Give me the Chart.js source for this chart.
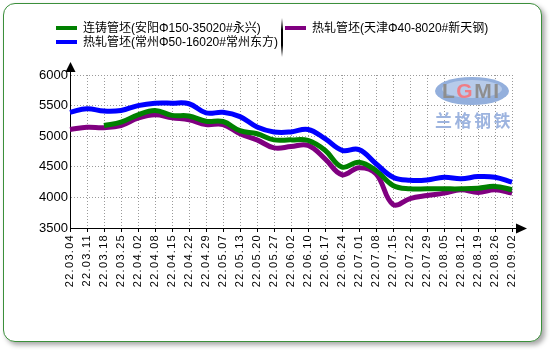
<!DOCTYPE html>
<html>
<head>
<meta charset="utf-8">
<script src="https://cdn.jsdelivr.net/npm/chart.js@4.4.0/dist/chart.umd.min.js"></script>
<style>
    body { margin: 0; background: #fff; }
    .card {
        position: absolute; left: 3px; top: 3px; width: 537px; height: 337px;
        border: 1px solid #3b8f3b; border-radius: 12px;
        box-shadow: 3px 3px 5px rgba(0, 0, 0, 0.35); background: #fff;
    }
    #priceChart { position: absolute; left: 0; top: 0; }
    .legend { position: absolute; font: 12px "Liberation Sans", "Noto Sans CJK SC", sans-serif; color: #000; }
    .legend .item { position: absolute; white-space: nowrap; line-height: 14px; }
    .legend .swatch { position: absolute; width: 21px; height: 4px; }
    .legend .sep {
        position: absolute; left: 281px; top: 18px; width: 2px; height: 39px;
        background: linear-gradient(#fff, #000 30%, #000 70%, #fff);
    }
</style>
</head>
<body>
<div class="card"></div>
<canvas id="priceChart" width="550" height="350"></canvas>
<div class="legend">
    <div class="swatch" style="left:56px;top:26px;background:#008000"></div>
    <div class="item" style="left:83px;top:21px">连铸管坯(安阳Φ150-35020#永兴)</div>
    <div class="swatch" style="left:56px;top:40px;background:#0000ff"></div>
    <div class="item" style="left:83px;top:35px">热轧管坯(常州Φ50-16020#常州东方)</div>
    <div class="sep"></div>
    <div class="swatch" style="left:285px;top:26px;background:#800080"></div>
    <div class="item" style="left:312px;top:21px">热轧管坯(天津Φ40-8020#新天钢)</div>
</div>
<script>
// weekly quotes, yuan/ton
const weekLabels = ['22.03.04', '22.03.11', '22.03.18', '22.03.25', '22.04.02', '22.04.08', '22.04.15',
    '22.04.22', '22.04.29', '22.05.07', '22.05.13', '22.05.20', '22.05.27', '22.06.02', '22.06.10',
    '22.06.17', '22.06.24', '22.07.01', '22.07.08', '22.07.15', '22.07.22', '22.07.29', '22.08.05',
    '22.08.12', '22.08.19', '22.08.26', '22.09.02'];
const anyangCast = [null, null, 5175, 5230, 5350, 5420, 5340, 5330, 5245, 5240, 5090, 5040, 4940, 4940,
    4930, 4770, 4495, 4575, 4440, 4195, 4140, 4140, 4140, 4140, 4150, 4180, 4125];
const changzhouHot = [5390, 5450, 5410, 5420, 5500, 5540, 5540, 5530, 5380, 5390, 5320, 5150, 5070, 5070,
    5110, 4960, 4770, 4780, 4550, 4330, 4280, 4285, 4330, 4305, 4340, 4330, 4250];
const tianjinHot = [5110, 5145, 5140, 5175, 5295, 5350, 5300, 5270, 5190, 5190, 5040, 4940, 4810, 4830,
    4850, 4630, 4370, 4485, 4385, 3885, 3980, 4030, 4070, 4125, 4080, 4125, 4070];
const yTicks = [3500, 4000, 4500, 5000, 5500, 6000];

const lineStyle = { borderWidth: 5, pointRadius: 0, tension: 0.4, fill: false };

const chartPriceData = {
    labels: weekLabels,
    datasets: [
        { label: '热轧管坯(常州Φ50-16020#常州东方)', data: changzhouHot, borderColor: '#0000ff', ...lineStyle },
        { label: '连铸管坯(安阳Φ150-35020#永兴)', data: anyangCast, borderColor: '#008000', ...lineStyle },
        { label: '热轧管坯(天津Φ40-8020#新天钢)', data: tianjinHot, borderColor: '#800080', ...lineStyle }
    ]
};

// arrow heads on both axes + LGMI mark behind the lines
const axisExtras = {
    id: 'axisExtras',
    beforeDatasetsDraw(chart) {
        const ctx = chart.ctx;
        ctx.save();
        ctx.fillStyle = '#93afdc';
        ctx.beginPath();
        ctx.ellipse(472, 91, 37, 14, 0, 0, Math.PI * 2);
        ctx.fill();
        ctx.fillStyle = '#b7cbea';
        ctx.beginPath();
        ctx.ellipse(472, 89, 30, 9, 0, 0, Math.PI * 2);
        ctx.fill();
        ctx.font = 'bold 21px "Liberation Sans", Arial, sans-serif';
        ctx.textBaseline = 'alphabetic';
        let x = 442;
        [['L', '#8e8e8e'], ['G', '#f07d86'], ['M', '#8e8e8e'], ['I', '#8e8e8e']].forEach(([ch, col]) => {
            ctx.fillStyle = col;
            ctx.fillText(ch, x, 98);
            x += ctx.measureText(ch).width + 1.5;
        });
        ctx.fillStyle = '#9db4df';
        ctx.font = 'bold 17px "Noto Sans CJK SC", sans-serif';
        ctx.textBaseline = 'middle';
        x = 435;
        ['兰', '格', '钢', '铁'].forEach(ch => {
            ctx.fillText(ch, x, 121);
            x += 19.5;
        });
        ctx.restore();
    },
    afterDatasetsDraw(chart) {
        // x labels are drawn on a later layer, spaced out a little
        chart.ctx.letterSpacing = '1.3px';
    },
    afterDraw(chart) {
        const { ctx, chartArea: { left, right, top, bottom } } = chart;
        ctx.letterSpacing = '0px';
        ctx.save();
        ctx.strokeStyle = '#000';
        ctx.fillStyle = '#000';
        ctx.lineWidth = 1;
        ctx.beginPath();
        ctx.moveTo(left + 0.5, top);
        ctx.lineTo(left + 0.5, top - 3);
        ctx.moveTo(right, bottom + 0.5);
        ctx.lineTo(right + 4, bottom + 0.5);
        ctx.stroke();
        ctx.beginPath();
        ctx.moveTo(left - 4.5, top - 3);
        ctx.lineTo(left + 5.5, top - 3);
        ctx.lineTo(left + 0.5, top - 13);
        ctx.closePath();
        ctx.fill();
        ctx.beginPath();
        ctx.moveTo(right + 4, bottom - 4.5);
        ctx.lineTo(right + 4, bottom + 5.5);
        ctx.lineTo(right + 15, bottom + 0.5);
        ctx.closePath();
        ctx.fill();
        ctx.restore();
    }
};

const chartPriceOptions = {
    responsive: false,
    animation: false,
    layout: { padding: { left: 0, top: 75, right: 38, bottom: 0 } },
    scales: {
        x: {
            offset: false,
            afterFit: function(scale) { scale.height = 122; },
            ticks: {
                z: 1,
                autoSkip: false,
                minRotation: 90,
                maxRotation: 90,
                padding: 2,
                color: '#000',
                font: { family: '"Liberation Sans", Arial, sans-serif', size: 11 }
            },
            grid: {
                color: '#9a9a9a',
                tickLength: 4,
                tickColor: '#000',
                tickBorderDash: []
            },
            border: { display: true, color: '#000', width: 1, dash: [1, 2] }
        },
        y: {
            min: 3500,
            max: 6000,
            afterFit: function(scale) { scale.width = 70; },
            afterBuildTicks: function(scale) { scale.ticks = yTicks.map(v => ({ value: v })); },
            ticks: {
                padding: 2,
                color: '#000',
                font: { family: '"Liberation Sans", Arial, sans-serif', size: 13 },
                callback: function(value) {
                    return String(value);
                }
            },
            grid: { color: '#9a9a9a', drawTicks: false },
            border: { display: true, color: '#000', width: 1, dash: [1, 2] }
        }
    },
    plugins: {
        legend: { display: false },
        tooltip: { enabled: false }
    }
};

const ctxPrice = document.getElementById('priceChart').getContext('2d');
const priceChart = new Chart(ctxPrice, {
    type: 'line',
    data: chartPriceData,
    options: chartPriceOptions,
    plugins: [axisExtras]
});
</script>
</body>
</html>
